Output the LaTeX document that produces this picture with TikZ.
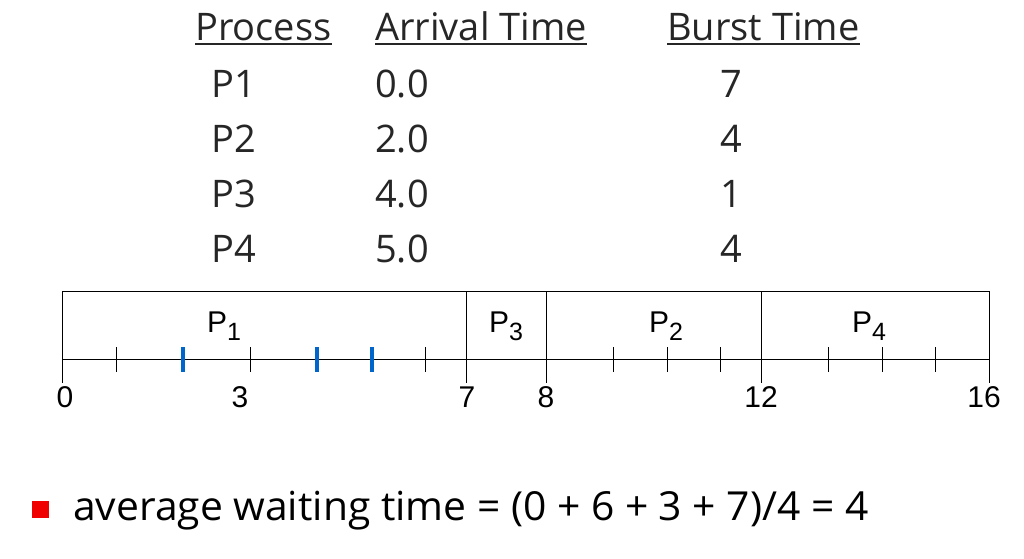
\documentclass[tikz,border=0pt]{standalone}
\usepackage{fontspec}
\setmainfont{Open Sans}
\newfontfamily\arialf{Liberation Sans}
\definecolor{tickblue}{RGB}{0,102,204}
\definecolor{bulletred}{RGB}{240,0,0}
\tikzset{
  tbl/.style={inner sep=0pt, font=\fontsize{38}{40}\selectfont, text=black!85},
  bottomtext/.style={inner sep=0pt, font=\fontsize{40}{42}\selectfont, text=black},
  gl/.style={inner sep=0pt, font=\arialf\fontsize{30}{32}\selectfont},
  thin line/.style={line width=1pt, black},
  minortick/.style={line width=1pt, black},
  arrtick/.style={line width=4pt, tickblue},
}
\newcommand{\psub}[1]{P\raisebox{-8pt}{\fontsize{25}{25}\selectfont #1}}
\begin{document}
\begin{tikzpicture}[x=1pt,y=-1pt]
\useasboundingbox (0,0) rectangle (1024,558);
% table header
\node[tbl, anchor=base west] (h1) at (195,40) {Process};
\node[tbl, anchor=base west] (h2) at (375,40) {Arrival Time};
\node[tbl, anchor=base west] (h3) at (667,40) {Burst Time};
\foreach \n in {h1,h2,h3}
  \draw[line width=1.5pt, black!85] ([yshift=-4pt]\n.base west) -- ([yshift=-4pt]\n.base east);
% rows
\foreach \i/\p/\a/\b/\y in {1/P1/0.0/7/97, 2/P2/2.0/4/152, 3/P3/4.0/1/207, 4/P4/5.0/4/262}{
  \node[tbl, anchor=base west] (p\i) at (211,\y) {\p};
  \node[tbl, anchor=base west] (a\i) at (375,\y) {\a};
  \node[tbl, anchor=base] (b\i) at (731,\y) {\b};
}
% gantt chart
\draw[thin line] (62,291) -- (989,291);
\draw[thin line] (62,359) -- (989,359);
\foreach \x in {62,466,546,761,989}
  \draw[thin line] (\x,291) -- (\x,383);
\foreach \x in {116,250,425,613,667,720,828,882,935}
  \draw[minortick] (\x,347) -- (\x,372);
\foreach \x in {183,317,372}
  \draw[arrtick] (\x,347) -- (\x,372);
\node[gl, anchor=base west] (g1) at (207,332) {\psub{1}};
\node[gl, anchor=base west] (g3) at (489,332) {\psub{3}};
\node[gl, anchor=base west] (g2) at (649,332) {\psub{2}};
\node[gl, anchor=base west] (g4) at (852,332) {\psub{4}};
\foreach \x/\t/\nm in {65/0/t0, 240/3/t3, 467/7/t7, 546/8/t8, 761/12/t12, 984/16/t16}
  \node[gl, anchor=base] (\nm) at (\x,407) {\t};
% bullet line
\fill[bulletred] (32,501) rectangle (49,518);
\node[bottomtext, anchor=base west, xscale=1.02] (avg) at (73,520) {average waiting time = (0 + 6 + 3 + 7)/4 = 4};
\end{tikzpicture}
\end{document}
